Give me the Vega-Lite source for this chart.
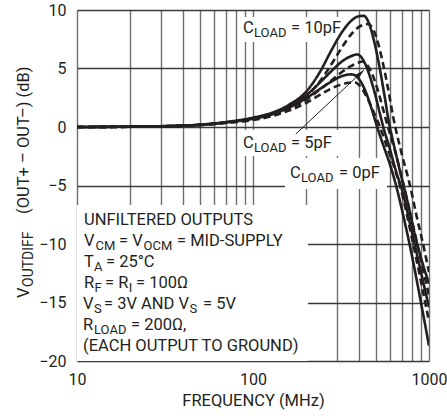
{
  "$schema": "https://vega.github.io/schema/vega-lite/v6.json",
  "width": 352,
  "height": 351,
  "autosize": {"type": "none"},
  "padding": {"left": 77, "top": 10, "right": 18, "bottom": 58},
  "background": "white",
  "config": {
    "view": {"stroke": null},
    "font": "Roboto"
  },
  "datasets": {
    "curves": [
      {"c":"10pF","v":"5V","f":10,"db":0},{"c":"10pF","v":"5V","f":20,"db":0.03},{"c":"10pF","v":"5V","f":30,"db":0.07},{"c":"10pF","v":"5V","f":50,"db":0.2},{"c":"10pF","v":"5V","f":70,"db":0.42},{"c":"10pF","v":"5V","f":100,"db":0.8},{"c":"10pF","v":"5V","f":130,"db":1.25},{"c":"10pF","v":"5V","f":160,"db":1.9},{"c":"10pF","v":"5V","f":200,"db":3.0},{"c":"10pF","v":"5V","f":240,"db":4.7},{"c":"10pF","v":"5V","f":280,"db":6.6},{"c":"10pF","v":"5V","f":320,"db":8.1},{"c":"10pF","v":"5V","f":360,"db":9.05},{"c":"10pF","v":"5V","f":395,"db":9.45},{"c":"10pF","v":"5V","f":425,"db":9.5},{"c":"10pF","v":"5V","f":455,"db":8.9},{"c":"10pF","v":"5V","f":490,"db":7.2},{"c":"10pF","v":"5V","f":525,"db":5.0},{"c":"10pF","v":"5V","f":560,"db":2.6},{"c":"10pF","v":"5V","f":590,"db":0.5},{"c":"10pF","v":"5V","f":620,"db":-1.0},{"c":"10pF","v":"5V","f":680,"db":-3.6},{"c":"10pF","v":"5V","f":750,"db":-6.2},{"c":"10pF","v":"5V","f":850,"db":-9.8},{"c":"10pF","v":"5V","f":1000,"db":-13.4},
      {"c":"10pF","v":"3V","f":10,"db":0},{"c":"10pF","v":"3V","f":20,"db":0.02},{"c":"10pF","v":"3V","f":30,"db":0.06},{"c":"10pF","v":"3V","f":50,"db":0.18},{"c":"10pF","v":"3V","f":70,"db":0.38},{"c":"10pF","v":"3V","f":100,"db":0.7},{"c":"10pF","v":"3V","f":130,"db":1.1},{"c":"10pF","v":"3V","f":160,"db":1.65},{"c":"10pF","v":"3V","f":200,"db":2.6},{"c":"10pF","v":"3V","f":240,"db":3.9},{"c":"10pF","v":"3V","f":280,"db":5.4},{"c":"10pF","v":"3V","f":320,"db":6.8},{"c":"10pF","v":"3V","f":360,"db":7.9},{"c":"10pF","v":"3V","f":400,"db":8.55},{"c":"10pF","v":"3V","f":450,"db":8.8},{"c":"10pF","v":"3V","f":480,"db":8.4},{"c":"10pF","v":"3V","f":515,"db":7.1},{"c":"10pF","v":"3V","f":550,"db":5.3},{"c":"10pF","v":"3V","f":590,"db":3.0},{"c":"10pF","v":"3V","f":625,"db":0.9},{"c":"10pF","v":"3V","f":650,"db":-0.3},{"c":"10pF","v":"3V","f":700,"db":-2.3},{"c":"10pF","v":"3V","f":780,"db":-5.0},{"c":"10pF","v":"3V","f":850,"db":-7.6},{"c":"10pF","v":"3V","f":925,"db":-10.0},{"c":"10pF","v":"3V","f":1000,"db":-12.4},
      {"c":"5pF","v":"5V","f":10,"db":0},{"c":"5pF","v":"5V","f":20,"db":0.03},{"c":"5pF","v":"5V","f":30,"db":0.06},{"c":"5pF","v":"5V","f":50,"db":0.19},{"c":"5pF","v":"5V","f":70,"db":0.4},{"c":"5pF","v":"5V","f":100,"db":0.75},{"c":"5pF","v":"5V","f":130,"db":1.2},{"c":"5pF","v":"5V","f":160,"db":1.75},{"c":"5pF","v":"5V","f":200,"db":2.7},{"c":"5pF","v":"5V","f":240,"db":3.8},{"c":"5pF","v":"5V","f":280,"db":4.8},{"c":"5pF","v":"5V","f":320,"db":5.6},{"c":"5pF","v":"5V","f":360,"db":6.05},{"c":"5pF","v":"5V","f":390,"db":6.2},{"c":"5pF","v":"5V","f":420,"db":5.8},{"c":"5pF","v":"5V","f":455,"db":4.6},{"c":"5pF","v":"5V","f":490,"db":3.0},{"c":"5pF","v":"5V","f":525,"db":1.2},{"c":"5pF","v":"5V","f":550,"db":0.0},{"c":"5pF","v":"5V","f":600,"db":-1.9},{"c":"5pF","v":"5V","f":650,"db":-3.8},{"c":"5pF","v":"5V","f":700,"db":-5.3},{"c":"5pF","v":"5V","f":800,"db":-9.0},{"c":"5pF","v":"5V","f":900,"db":-12.4},{"c":"5pF","v":"5V","f":1000,"db":-15.4},
      {"c":"5pF","v":"3V","f":10,"db":0},{"c":"5pF","v":"3V","f":20,"db":0.02},{"c":"5pF","v":"3V","f":30,"db":0.05},{"c":"5pF","v":"3V","f":50,"db":0.17},{"c":"5pF","v":"3V","f":70,"db":0.36},{"c":"5pF","v":"3V","f":100,"db":0.65},{"c":"5pF","v":"3V","f":130,"db":1.05},{"c":"5pF","v":"3V","f":160,"db":1.55},{"c":"5pF","v":"3V","f":200,"db":2.3},{"c":"5pF","v":"3V","f":240,"db":3.2},{"c":"5pF","v":"3V","f":280,"db":4.0},{"c":"5pF","v":"3V","f":320,"db":4.7},{"c":"5pF","v":"3V","f":360,"db":5.2},{"c":"5pF","v":"3V","f":390,"db":5.45},{"c":"5pF","v":"3V","f":420,"db":5.6},{"c":"5pF","v":"3V","f":450,"db":5.2},{"c":"5pF","v":"3V","f":485,"db":4.2},{"c":"5pF","v":"3V","f":520,"db":2.8},{"c":"5pF","v":"3V","f":560,"db":1.0},{"c":"5pF","v":"3V","f":590,"db":-0.2},{"c":"5pF","v":"3V","f":640,"db":-2.0},{"c":"5pF","v":"3V","f":700,"db":-4.3},{"c":"5pF","v":"3V","f":800,"db":-8.0},{"c":"5pF","v":"3V","f":900,"db":-11.4},{"c":"5pF","v":"3V","f":1000,"db":-14.4},
      {"c":"0pF","v":"5V","f":10,"db":0},{"c":"0pF","v":"5V","f":20,"db":0.03},{"c":"0pF","v":"5V","f":30,"db":0.06},{"c":"0pF","v":"5V","f":50,"db":0.18},{"c":"0pF","v":"5V","f":70,"db":0.38},{"c":"0pF","v":"5V","f":100,"db":0.7},{"c":"0pF","v":"5V","f":130,"db":1.1},{"c":"0pF","v":"5V","f":160,"db":1.65},{"c":"0pF","v":"5V","f":200,"db":2.45},{"c":"0pF","v":"5V","f":240,"db":3.25},{"c":"0pF","v":"5V","f":280,"db":3.9},{"c":"0pF","v":"5V","f":320,"db":4.35},{"c":"0pF","v":"5V","f":365,"db":4.5},{"c":"0pF","v":"5V","f":400,"db":4.1},{"c":"0pF","v":"5V","f":440,"db":2.9},{"c":"0pF","v":"5V","f":480,"db":1.2},{"c":"0pF","v":"5V","f":510,"db":-0.1},{"c":"0pF","v":"5V","f":560,"db":-1.9},{"c":"0pF","v":"5V","f":600,"db":-3.2},{"c":"0pF","v":"5V","f":650,"db":-5.0},{"c":"0pF","v":"5V","f":700,"db":-7.0},{"c":"0pF","v":"5V","f":800,"db":-11.0},{"c":"0pF","v":"5V","f":900,"db":-15.0},{"c":"0pF","v":"5V","f":1000,"db":-18.7},
      {"c":"0pF","v":"3V","f":10,"db":0},{"c":"0pF","v":"3V","f":20,"db":0.02},{"c":"0pF","v":"3V","f":30,"db":0.05},{"c":"0pF","v":"3V","f":50,"db":0.16},{"c":"0pF","v":"3V","f":70,"db":0.34},{"c":"0pF","v":"3V","f":100,"db":0.6},{"c":"0pF","v":"3V","f":130,"db":0.95},{"c":"0pF","v":"3V","f":160,"db":1.4},{"c":"0pF","v":"3V","f":200,"db":2.05},{"c":"0pF","v":"3V","f":240,"db":2.75},{"c":"0pF","v":"3V","f":280,"db":3.3},{"c":"0pF","v":"3V","f":320,"db":3.65},{"c":"0pF","v":"3V","f":350,"db":3.78},{"c":"0pF","v":"3V","f":380,"db":3.8},{"c":"0pF","v":"3V","f":415,"db":3.3},{"c":"0pF","v":"3V","f":455,"db":2.2},{"c":"0pF","v":"3V","f":500,"db":0.8},{"c":"0pF","v":"3V","f":530,"db":-0.1},{"c":"0pF","v":"3V","f":580,"db":-1.8},{"c":"0pF","v":"3V","f":630,"db":-3.3},{"c":"0pF","v":"3V","f":700,"db":-5.6},{"c":"0pF","v":"3V","f":800,"db":-9.5},{"c":"0pF","v":"3V","f":900,"db":-13.2},{"c":"0pF","v":"3V","f":1000,"db":-16.6}
    ],
    "boxes": [
      {"f1": 83.27, "f2": 328.9, "d1": 7.265, "d2": 9.402},
      {"f1": 83.27, "f2": 308.1, "d1": -2.479, "d2": -0.256},
      {"f1": 152.0, "f2": 577.2, "d1": -5.299, "d2": -2.65},
      {"f1": 10, "f2": 205.4, "d1": -20, "d2": -6.667}
    ],
    "labels": [
      {"k":"main","t":"UNFILTERED OUTPUTS","f":10.959,"db":-8.376},
      {"k":"main","t":"V","f":10.959,"db":-10.171},
      {"k":"sub","t":"CM","f":12.738,"db":-10.171},
      {"k":"main","t":"= V","f":17.32,"db":-10.171},
      {"k":"sub","t":"OCM","f":23.87,"db":-10.171},
      {"k":"main","t":"= MID-SUPPLY","f":37.0,"db":-10.171},
      {"k":"main","t":"T","f":10.959,"db":-11.966},
      {"k":"sub","t":"A","f":12.491,"db":-11.966},
      {"k":"main","t":"= 25°C","f":14.617,"db":-11.966},
      {"k":"main","t":"R","f":10.959,"db":-13.761},
      {"k":"sub","t":"F","f":12.573,"db":-13.761},
      {"k":"main","t":"= R","f":14.427,"db":-13.761},
      {"k":"sub","t":"I","f":19.694,"db":-13.761},
      {"k":"main","t":"= 100Ω","f":21.638,"db":-13.761},
      {"k":"main","t":"V","f":10.816,"db":-15.556},
      {"k":"sub","t":"S","f":12.491,"db":-15.556},
      {"k":"main","t":"= 3V AND V","f":14.24,"db":-15.556},
      {"k":"sub","t":"S","f":43.572,"db":-15.556},
      {"k":"main","t":"= 5V","f":51.99,"db":-15.556},
      {"k":"main","t":"R","f":10.816,"db":-17.35},
      {"k":"sub","t":"LOAD","f":12.491,"db":-17.35},
      {"k":"main","t":"= 200Ω,","f":20.268,"db":-17.35},
      {"k":"main","t":"(EACH OUTPUT TO GROUND)","f":10.816,"db":-19.145},
      {"k":"main","t":"C","f":87.74,"db":8.034},
      {"k":"sub","t":"LOAD","f":101.32,"db":8.034},
      {"k":"main","t":"= 10pF","f":164.4,"db":8.034},
      {"k":"main","t":"C","f":87.74,"db":-1.821},
      {"k":"sub","t":"LOAD","f":101.32,"db":-1.821},
      {"k":"main","t":"= 5pF","f":164.4,"db":-1.821},
      {"k":"main","t":"C","f":162.2,"db":-4.385},
      {"k":"sub","t":"LOAD","f":187.4,"db":-4.385},
      {"k":"main","t":"= 0pF","f":308.1,"db":-4.385}
    ],
    "ytitle": [
      {"k":"main","t":"V","f":5.337,"db":-14.615},
      {"k":"sub","t":"OUTDIFF","f":5.337,"db":-13.675},
      {"k":"main","t":"(OUT+ – OUT–) (dB)","f":5.337,"db":-7.436}
    ],
    "arrow": [
      {"f": 175, "db": -0.6, "f2": 427, "db2": 4.87, "hf": 407.5, "hdb": 4.581}
    ]
  },
  "layer": [
    {
      "data": {"name": "boxes"},
      "mark": {"type": "rect", "fill": "white", "stroke": null},
      "encoding": {
        "x": {"field": "f1", "type": "quantitative"},
        "x2": {"field": "f2"},
        "y": {"field": "d1", "type": "quantitative"},
        "y2": {"field": "d2"}
      }
    },
    {
      "data": {"name": "curves"},
      "mark": {"type": "line", "interpolate": "monotone", "color": "#231f20", "strokeWidth": 2.6, "clip": true},
      "encoding": {
        "x": {
          "field": "f", "type": "quantitative",
          "scale": {"type": "log", "domain": [10, 1000], "nice": false},
          "axis": {
            "title": "FREQUENCY (MHz)",
            "values": [10,20,30,40,50,60,70,80,90,100,200,300,400,500,600,700,800,900,1000],
            "format": "d",
            "labelExpr": "datum.value == 10 || datum.value == 100 || datum.value == 1000 ? datum.label : ''",
            "grid": true, "gridColor": "#6e6e6e", "gridWidth": 1.4,
            "domain": false, "ticks": false,
            "labelFont": "Roboto", "labelFontSize": 16, "labelColor": "#231f20", "labelPadding": 10,
            "labelFlush": false, "labelOverlap": false,
            "titleFont": "Roboto", "titleFontSize": 16.5, "titleFontWeight": "normal", "titleColor": "#231f20", "titlePadding": 5,
            "zindex": 0
          }
        },
        "y": {
          "field": "db", "type": "quantitative",
          "scale": {"domain": [-20, 10], "nice": false},
          "axis": {
            "title": null,
            "values": [-20,-15,-10,-5,0,5,10],
            "grid": true, "gridColor": "#3a3a3a", "gridWidth": 1.3,
            "domain": false, "ticks": false,
            "labelFont": "Roboto", "labelFontSize": 16, "labelColor": "#231f20", "labelPadding": 11,
            "labelFlush": false, "labelOverlap": false,
            "zindex": 0
          }
        },
        "detail": {"field": "c"},
        "strokeDash": {
          "field": "v", "type": "nominal",
          "scale": {"domain": ["5V", "3V"], "range": [[1, 0], [7, 4]]},
          "legend": null
        }
      }
    },
    {
      "data": {"name": "arrow"},
      "mark": {"type": "rule", "color": "#231f20", "strokeWidth": 1},
      "encoding": {
        "x": {"field": "f", "type": "quantitative"},
        "x2": {"field": "f2"},
        "y": {"field": "db", "type": "quantitative"},
        "y2": {"field": "db2"}
      }
    },
    {
      "data": {"name": "arrow"},
      "mark": {"type": "point", "shape": "M0,-1L0.5,1L-0.5,1Z", "filled": true, "color": "#231f20", "size": 100, "angle": 47, "opacity": 1},
      "encoding": {
        "x": {"field": "hf", "type": "quantitative"},
        "y": {"field": "hdb", "type": "quantitative"}
      }
    },
    {
      "data": {"name": "labels"},
      "transform": [{"filter": "datum.k == 'main'"}],
      "mark": {"type": "text", "align": "left", "baseline": "alphabetic", "font": "Roboto", "fontSize": 16.5, "color": "#231f20"},
      "encoding": {
        "x": {"field": "f", "type": "quantitative"},
        "y": {"field": "db", "type": "quantitative"},
        "text": {"field": "t"}
      }
    },
    {
      "data": {"name": "labels"},
      "transform": [{"filter": "datum.k == 'sub'"}],
      "mark": {"type": "text", "align": "left", "baseline": "alphabetic", "font": "Roboto", "fontSize": 13, "dy": 4, "color": "#231f20"},
      "encoding": {
        "x": {"field": "f", "type": "quantitative"},
        "y": {"field": "db", "type": "quantitative"},
        "text": {"field": "t"}
      }
    },
    {
      "data": {"name": "ytitle"},
      "transform": [{"filter": "datum.k == 'main'"}],
      "mark": {"type": "text", "align": "left", "baseline": "alphabetic", "angle": 270, "font": "Roboto", "fontSize": 16.5, "color": "#231f20"},
      "encoding": {
        "x": {"field": "f", "type": "quantitative"},
        "y": {"field": "db", "type": "quantitative"},
        "text": {"field": "t"}
      }
    },
    {
      "data": {"name": "ytitle"},
      "transform": [{"filter": "datum.k == 'sub'"}],
      "mark": {"type": "text", "align": "left", "baseline": "alphabetic", "angle": 270, "font": "Roboto", "fontSize": 14, "dy": 4, "color": "#231f20"},
      "encoding": {
        "x": {"field": "f", "type": "quantitative"},
        "y": {"field": "db", "type": "quantitative"},
        "text": {"field": "t"}
      }
    },
    {
      "mark": {"type": "rect", "fill": null, "fillOpacity": 0, "stroke": "#231f20", "strokeWidth": 2},
      "encoding": {
        "x": {"datum": 10},
        "x2": {"datum": 1000},
        "y": {"datum": -20},
        "y2": {"datum": 10}
      }
    }
  ]
}
